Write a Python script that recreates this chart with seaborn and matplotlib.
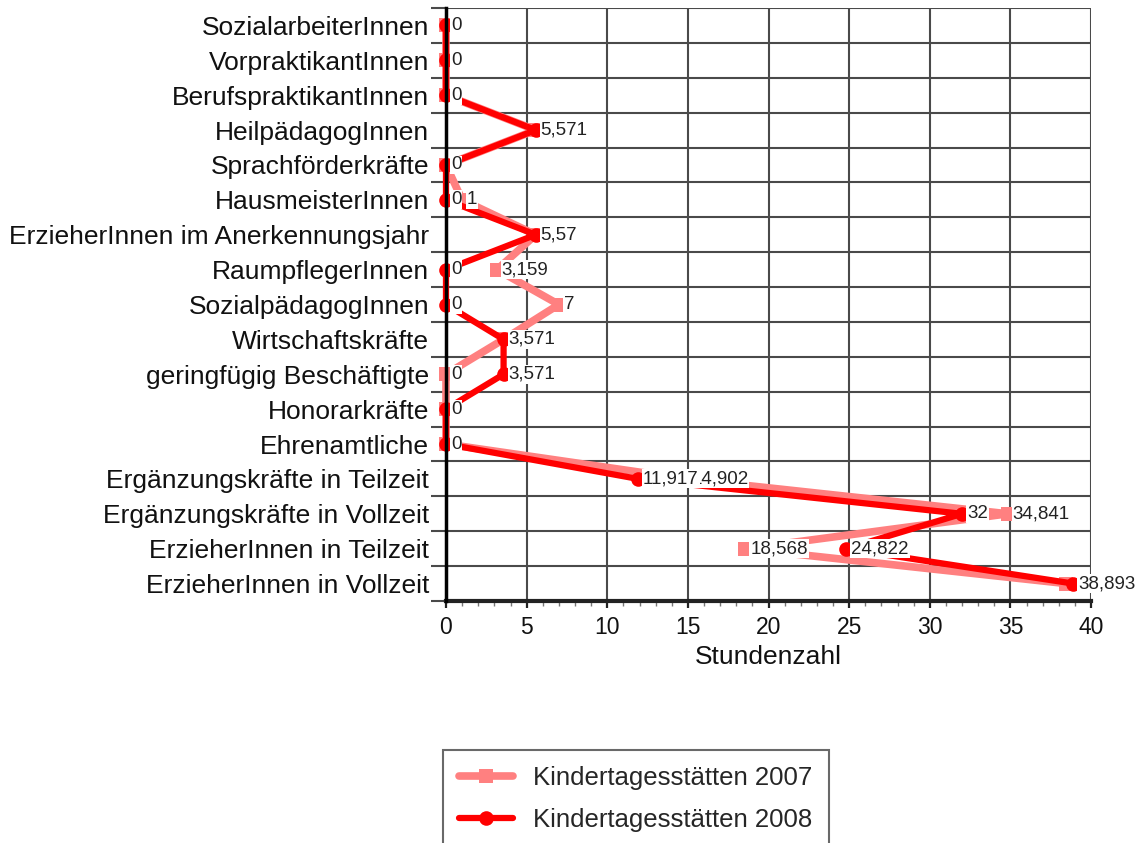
import matplotlib
matplotlib.use("Agg")
import matplotlib.pyplot as plt
import numpy as np
import pandas as pd
import seaborn as sns
from matplotlib.ticker import MultipleLocator, FixedLocator

categories = [
    "SozialarbeiterInnen",
    "VorpraktikantInnen",
    "BerufspraktikantInnen",
    "HeilpädagogInnen",
    "Sprachförderkräfte",
    "HausmeisterInnen",
    "ErzieherInnen im Anerkennungsjahr",
    "RaumpflegerInnen",
    "SozialpädagogInnen",
    "Wirtschaftskräfte",
    "geringfügig Beschäftigte",
    "Honorarkräfte",
    "Ehrenamtliche",
    "Ergänzungskräfte in Teilzeit",
    "Ergänzungskräfte in Vollzeit",
    "ErzieherInnen in Teilzeit",
    "ErzieherInnen in Vollzeit",
]
values_2007 = [0, 0, 0, 5.571, 0, 1, 5.57, 3.159, 7, 3.571, 0, 0, 0, 14.902, 34.841, 18.568, 38.45]
values_2008 = [0, 0, 0, 5.571, 0, 0, 5.57, 0, 0, 3.571, 3.571, 0, 0, 11.917, 32, 24.822, 38.893]
series_names = ["Kindertagesstätten 2007", "Kindertagesstätten 2008"]
x_ticks = [0, 5, 10, 15, 20, 25, 30, 35, 40]
x_label = "Stundenzahl"

sns.set_theme(style="white")
plt.rcParams["font.family"] = ["Liberation Sans", "DejaVu Sans"]

rows = []
for name, vals in zip(series_names, [values_2007, values_2008]):
    for i, (c, v) in enumerate(zip(categories, vals)):
        rows.append({"Serie": name, "Kategorie": c, "pos": i, "Stunden": v})
df = pd.DataFrame(rows)

fig = plt.figure(figsize=(11.45, 8.43), dpi=100)
ax = fig.add_axes([446 / 1145, 1 - 601 / 843, (1091 - 446) / 1145, (601 - 8) / 843])

colors = {series_names[0]: "#ff8080", series_names[1]: "#ff0000"}
styles = [
    dict(lw=5.5, marker="s", ms=10.5, z=3),
    dict(lw=4.5, marker="o", ms=10.5, z=4),
]
for name, st in zip(series_names, styles):
    sub = df[df["Serie"] == name]
    sns.lineplot(
        data=sub, x="Stunden", y="pos", sort=False, orient="y", ax=ax,
        color=colors[name], linewidth=st["lw"], marker=st["marker"],
        markersize=st["ms"], markeredgewidth=0, label=name,
        zorder=st["z"], estimator=None, clip_on=False,
    )

def fmt(v):
    return f"{v:g}".replace(".", ",")

for k, (name, vals) in enumerate(zip(series_names, [values_2007, values_2008])):
    for i, v in enumerate(vals):
        # a 2007 label that sits right under the 2008 label is hidden in the reference
        if k == 0 and abs(v - values_2008[i]) < 0.6:
            continue
        ax.annotate(fmt(v), xy=(v, i), xytext=(3.5, 0), textcoords="offset points",
                    ha="left", va="center", fontsize=13.5, color="#222222",
                    bbox=dict(boxstyle="square,pad=0.05", fc="white", ec="none"),
                    zorder=6, annotation_clip=False)

ax.set_xlim(0, 40)
ax.set_ylim(16.5, -0.5)
ax.set_xticks(x_ticks)
ax.xaxis.set_minor_locator(MultipleLocator(1))
ax.set_yticks(range(len(categories)))
ax.set_yticklabels(categories)
ax.yaxis.set_minor_locator(FixedLocator(np.arange(-0.5, len(categories), 1.0)))

ax.grid(False)
for x in x_ticks[1:]:
    ax.axvline(x, color="#4a4a4a", lw=1.5, zorder=1)
for y in np.arange(-0.5, len(categories) - 1, 1.0):
    ax.axhline(y, color="#4a4a4a", lw=1.5, zorder=1)

for s in ["top", "right"]:
    ax.spines[s].set_visible(False)
ax.spines["left"].set_color("black")
ax.spines["left"].set_linewidth(2.5)
ax.spines["bottom"].set_color("#222222")
ax.spines["bottom"].set_linewidth(3)
ax.spines["left"].set_zorder(5)

ax.tick_params(axis="y", which="major", length=0, pad=12, labelsize=19, labelcolor="#111111")
ax.tick_params(axis="y", which="minor", length=11, width=1.5, color="#4a4a4a", left=True)
ax.tick_params(axis="x", which="major", length=5, width=1.6, color="#222222", bottom=True,
               labelsize=16.5, labelcolor="#111111", pad=6)
ax.tick_params(axis="x", which="minor", length=3.5, width=1.0, color="#777777", bottom=True)

ax.set_xlabel(x_label, fontsize=19, color="#111111", labelpad=4)
ax.set_ylabel("")

ax.get_legend().remove()
handles, labels = ax.get_legend_handles_labels()
leg = fig.legend(handles, labels, loc="upper left",
                 bbox_to_anchor=(443 / 1145, 1 - 750 / 843), frameon=True,
                 fontsize=18.5, handlelength=2.1, labelspacing=0.72,
                 borderpad=0.62, handletextpad=0.8, borderaxespad=0,
                 fancybox=False, edgecolor="#444444")
leg.get_frame().set_linewidth(1.5)

fig.savefig("out.png", dpi=100)
